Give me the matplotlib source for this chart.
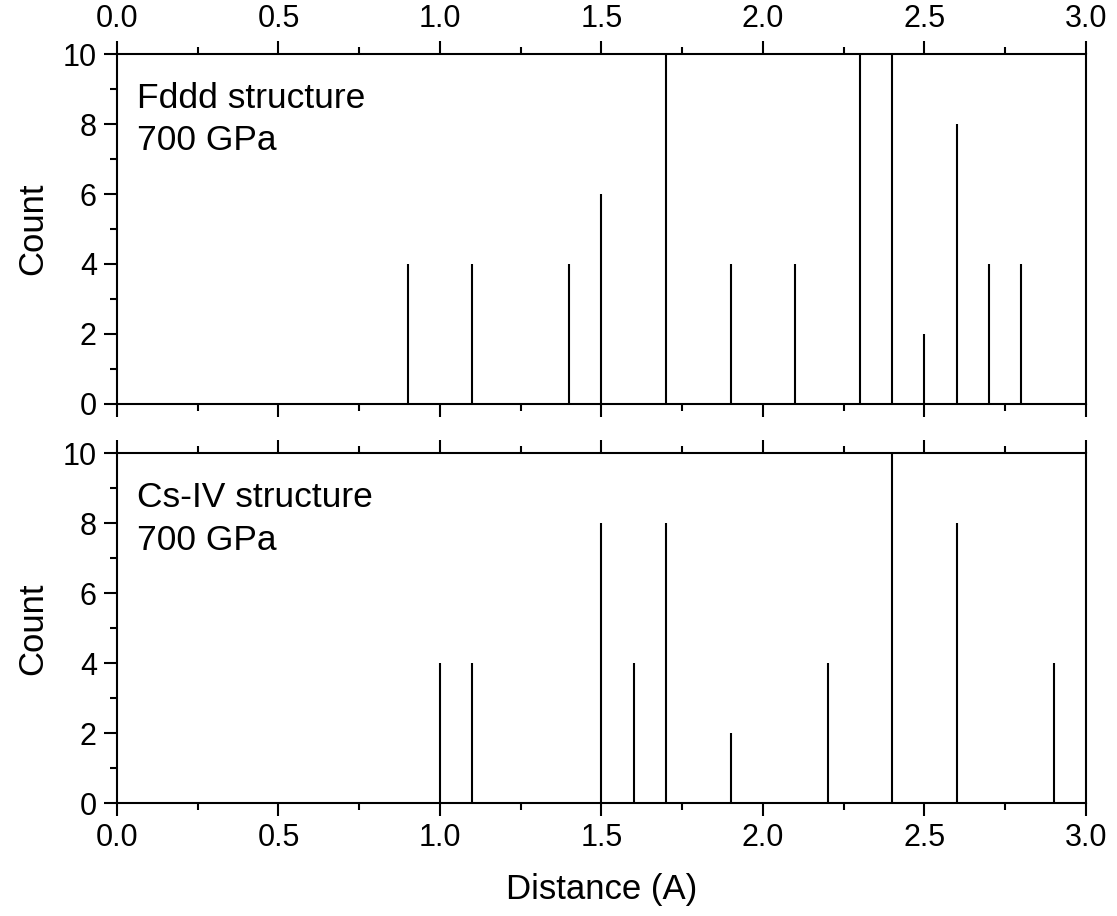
import matplotlib

matplotlib.use("Agg")
import matplotlib.pyplot as plt
from matplotlib.ticker import MultipleLocator

plt.rcParams["font.family"] = ["Liberation Sans", "DejaVu Sans"]

# Fddd structure, 700 GPa (bars above 10 are cut by the axis)
fddd_distance = [0.9, 1.1, 1.4, 1.5, 1.7, 1.9, 2.1, 2.3, 2.4, 2.5, 2.6, 2.7, 2.8]
fddd_count = [4, 4, 4, 6, 12, 4, 4, 12, 12, 2, 8, 4, 4]

# Cs-IV structure, 700 GPa
csiv_distance = [1.0, 1.1, 1.5, 1.6, 1.7, 1.9, 2.2, 2.4, 2.6, 2.9]
csiv_count = [4, 4, 8, 4, 8, 2, 4, 12, 8, 4]

panel_labels = ["Fddd structure\n700 GPa", "Cs-IV structure\n700 GPa"]


def style_axis(ax, top_labels):
    ax.set_xlim(0, 3)
    ax.set_ylim(0, 10)
    ax.xaxis.set_major_locator(MultipleLocator(0.5))
    ax.xaxis.set_minor_locator(MultipleLocator(0.25))
    ax.yaxis.set_major_locator(MultipleLocator(2))
    ax.yaxis.set_minor_locator(MultipleLocator(1))
    ax.xaxis.set_major_formatter(plt.FormatStrFormatter("%.1f"))
    for spine in ax.spines.values():
        spine.set_linewidth(1.5)
    ax.tick_params(which="both", direction="out", top=True, right=False,
                   width=1.5, labelsize=22,
                   labeltop=top_labels, labelbottom=not top_labels)
    ax.tick_params(which="major", length=9.5, pad=5)
    ax.tick_params(which="minor", length=5)
    ax.set_ylabel("Count", fontsize=25, labelpad=10)


fig = plt.figure(figsize=(11.17, 9.16), dpi=100)
ax_top = fig.add_axes([0.1047, 0.559, 0.8675, 0.382])
ax_bot = fig.add_axes([0.1047, 0.1230, 0.8675, 0.382])

ax_top.vlines(fddd_distance, 0, fddd_count, colors="black", linewidth=1.5)
ax_bot.vlines(csiv_distance, 0, csiv_count, colors="black", linewidth=1.5)

style_axis(ax_top, True)
style_axis(ax_bot, False)

for ax, label in zip([ax_top, ax_bot], panel_labels):
    ax.text(0.021, 0.92, label, transform=ax.transAxes, fontsize=25.5,
            va="top", ha="left", linespacing=1.35)

ax_bot.set_xlabel("Distance (A)", fontsize=25, labelpad=14)

fig.savefig("out.png", dpi=100)
